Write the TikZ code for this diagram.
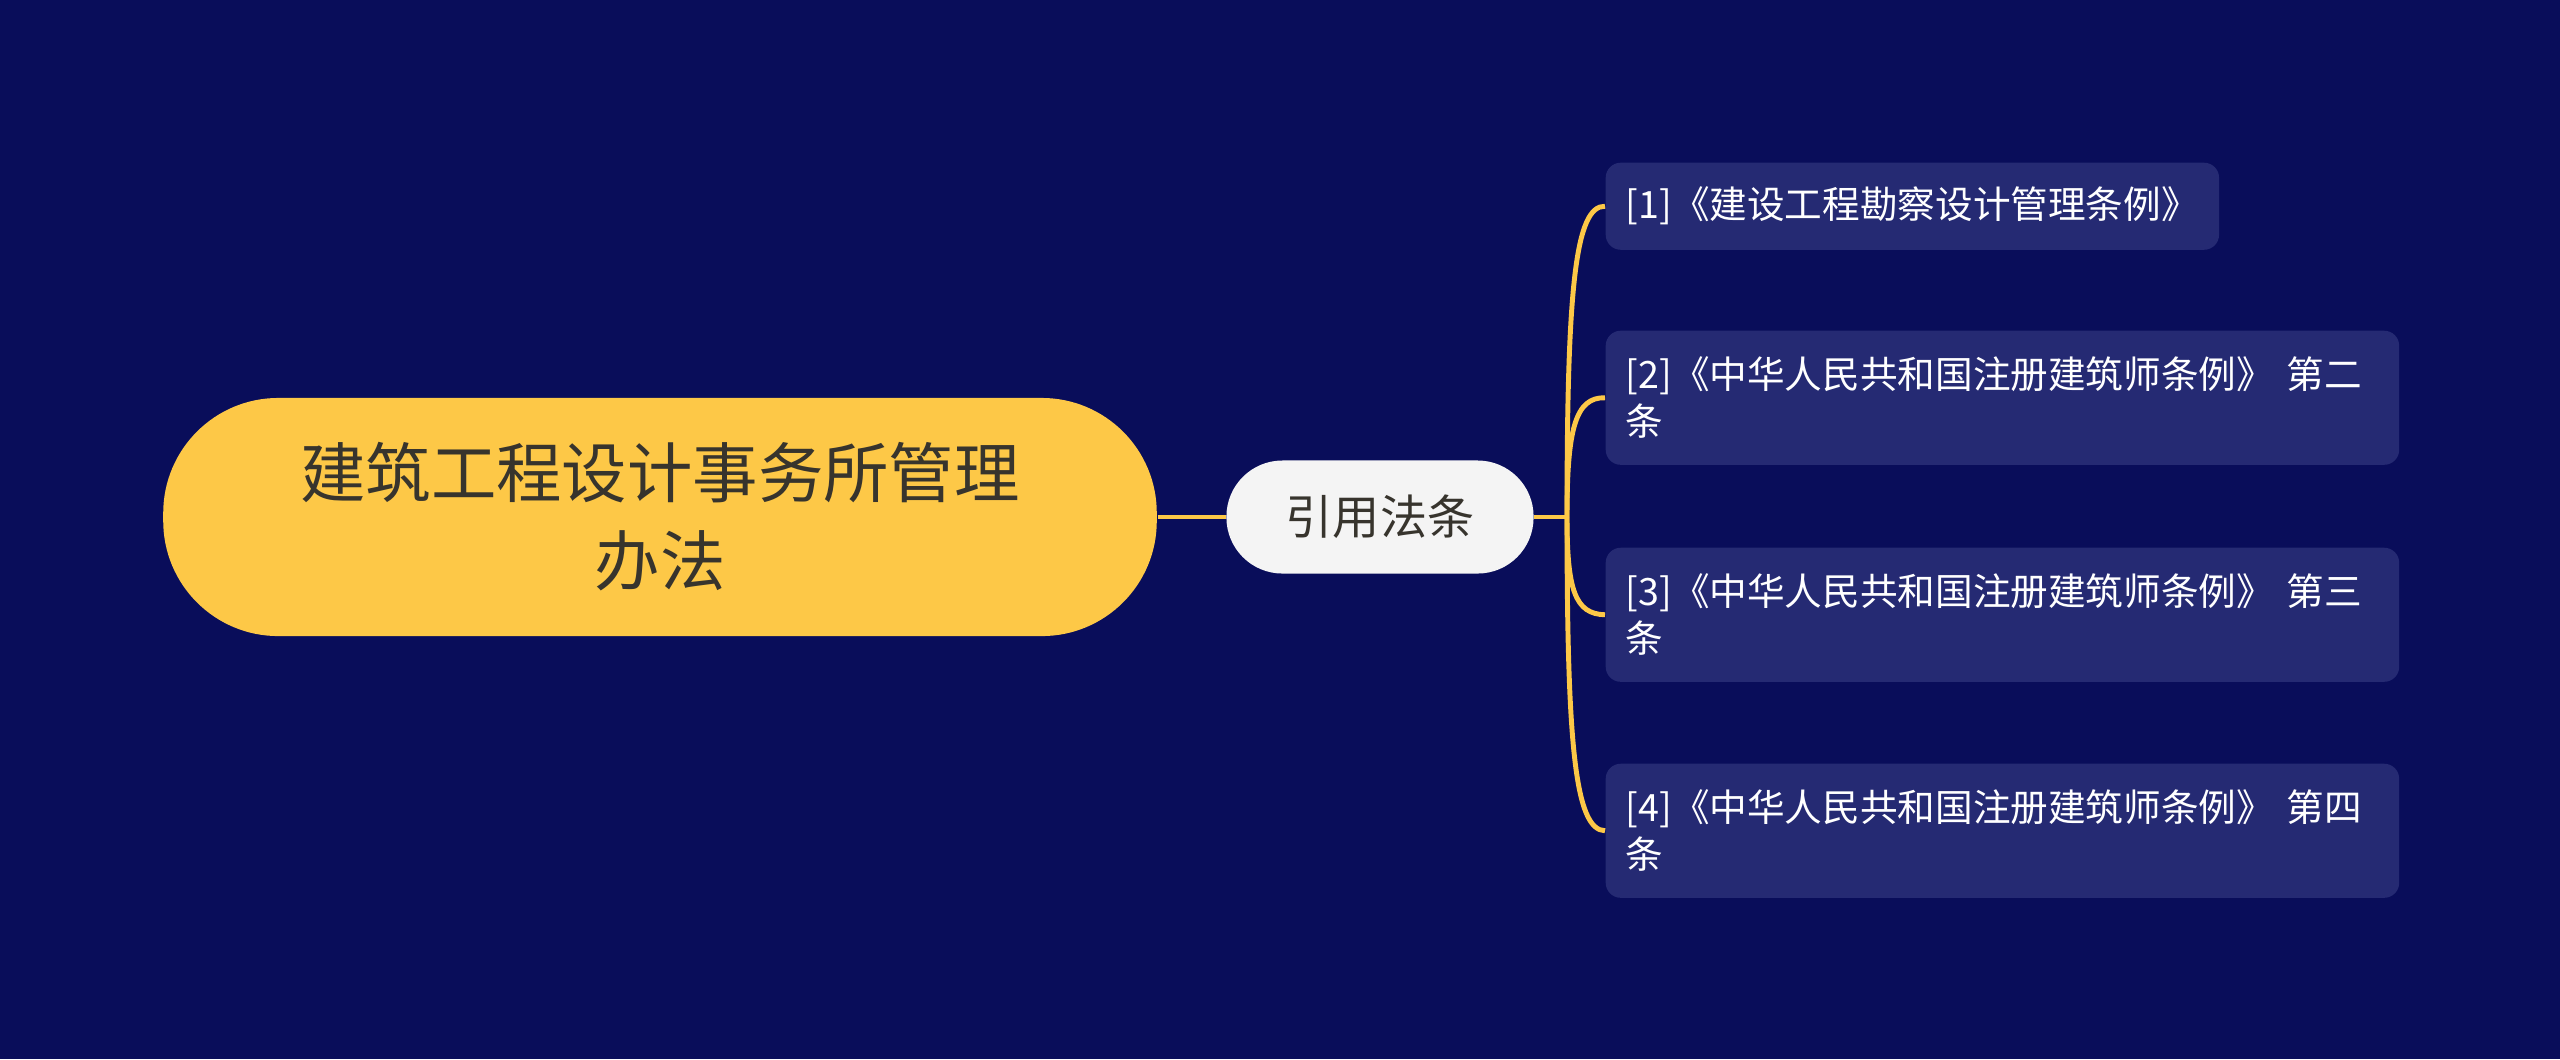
\documentclass[tikz,border=0pt]{standalone}
\usepackage{fontspec}
\newfontfamily\cjk{Noto Sans CJK SC}
\definecolor{bgnavy}{RGB}{9,13,90}
\definecolor{leaffill}{RGB}{37,42,115}
\definecolor{gold}{RGB}{253,200,71}
\definecolor{midfill}{RGB}{244,244,244}
\definecolor{darktext}{RGB}{55,52,45}
\begin{document}
\begin{tikzpicture}[x=0.01cm,y=-0.01cm,
  rootbox/.style={fill=gold, rounded corners=1.15cm, minimum width=9.93cm, minimum height=2.38cm,
    align=center, text=darktext, font=\cjk\fontsize{18.6pt}{25pt}\selectfont, inner sep=0pt},
  midbox/.style={fill=midfill, rounded corners=0.56cm, minimum width=3.07cm, minimum height=1.13cm,
    text=darktext, font=\cjk\fontsize{13.4pt}{16pt}\selectfont, inner sep=0pt},
  leafbox/.style={fill=leaffill, rounded corners=0.15cm, anchor=north west, align=left,
    text=white, font=\cjk\fontsize{10.7pt}{13.3pt}\selectfont, inner xsep=0.2cm, inner ysep=0pt},
  link/.style={draw=gold, line width=1.4pt}
]
\useasboundingbox (0,0) rectangle (2560,1059);
\fill[bgnavy] (0,0) rectangle (2560,1059);

\node[rootbox] (root) at (660,517) {建筑工程设计事务所管理\\办法};
\node[midbox] (mid) at (1380,517) {引用法条};

\node[leafbox, minimum width=6.13cm, minimum height=0.87cm, text width=5.73cm] (l1) at (1605,162)
  {[1]《建设工程勘察设计管理条例》};
\node[leafbox, minimum width=7.93cm, minimum height=1.34cm, text width=7.53cm] (l2) at (1605,330)
  {[2]《中华人民共和国注册建筑师条例》~第二\\条};
\node[leafbox, minimum width=7.93cm, minimum height=1.34cm, text width=7.53cm] (l3) at (1605,547)
  {[3]《中华人民共和国注册建筑师条例》~第三\\条};
\node[leafbox, minimum width=7.93cm, minimum height=1.34cm, text width=7.53cm] (l4) at (1605,763)
  {[4]《中华人民共和国注册建筑师条例》~第四\\条};

\coordinate (j) at (1567,517);
\draw[link] (root.east) -- (mid.west);
\draw[link] (mid.east) -- (j);
\draw[link] (j) .. controls (1567,290) and (1575,205.5) .. (l1.west);
\draw[link] (j) .. controls (1567,430) and (1575,397) .. (l2.west);
\draw[link] (j) .. controls (1567,590) and (1575,614) .. (l3.west);
\draw[link] (j) .. controls (1567,745) and (1575,830) .. (l4.west);
\end{tikzpicture}
\end{document}
